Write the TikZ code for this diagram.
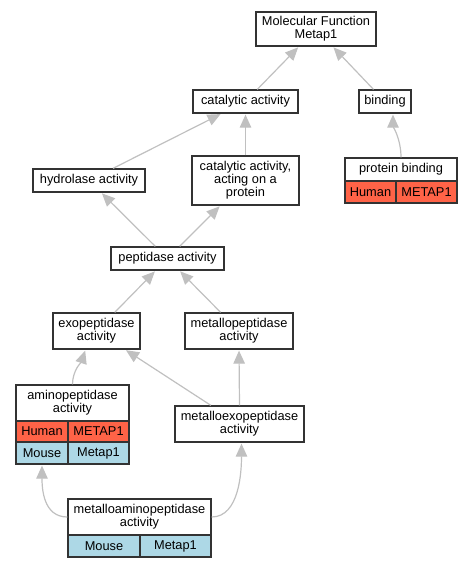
\documentclass[tikz,border=0pt]{standalone}
\usepackage{fontspec}
\setmainfont{Liberation Sans}
\usetikzlibrary{arrows.meta,calc}
\definecolor{bordc}{HTML}{333333}
\definecolor{edgec}{HTML}{C0C0C0}
\definecolor{humanc}{HTML}{FF6347}
\definecolor{mousec}{HTML}{ADD8E6}
\begin{document}
\begin{tikzpicture}[x=1pt,y=-1pt,
  box/.style={draw=bordc,line width=1.3pt,fill=white,align=center,inner sep=0pt,
    font=\fontsize{12.8}{13}\selectfont},
  human/.style={box,fill=humanc},
  mouse/.style={box,fill=mousec},
  edge/.style={draw=edgec,line width=1.2pt,-{Triangle[length=13pt,width=11.5pt]},shorten >=1pt}]
\useasboundingbox (0,0) rectangle (473,568);
% nodes
\node[box,minimum width=120pt,minimum height=34pt] (mf) at (316,29) {Molecular Function\\Metap1};
\node[box,minimum width=105pt,minimum height=23pt] (cat) at (245.5,101.5) {catalytic activity};
\node[box,minimum width=52pt,minimum height=23pt] (bind) at (385,101.5) {binding};
\node[box,minimum width=112pt,minimum height=23pt] (hyd) at (89,180.5) {hydrolase activity};
\node[box,minimum width=107pt,minimum height=49pt] (catp) at (245.5,180.5) {catalytic activity,\\acting on a\\protein};
\node[box,minimum width=112pt,minimum height=23pt] (pbind) at (401,169.5) {protein binding};
\node[human,minimum width=51pt,minimum height=22pt] (pbh) at (370.5,192) {Human};
\node[human,minimum width=61pt,minimum height=22pt] (pbg) at (426.5,192) {METAP1};
\node[box,minimum width=113pt,minimum height=23pt] (pep) at (167.5,258.5) {peptidase activity};
\node[box,minimum width=87pt,minimum height=36pt] (exo) at (96.5,331) {exopeptidase\\activity};
\node[box,minimum width=108pt,minimum height=36pt] (metp) at (239,331) {metallopeptidase\\activity};
\node[box,minimum width=113pt,minimum height=36pt] (amino) at (72.5,403) {aminopeptidase\\activity};
\node[human,minimum width=52pt,minimum height=21pt] (amh) at (42,431.5) {Human};
\node[human,minimum width=61pt,minimum height=21pt] (amhg) at (98.5,431.5) {METAP1};
\node[mouse,minimum width=52pt,minimum height=22pt] (amm) at (42,453) {Mouse};
\node[mouse,minimum width=61pt,minimum height=22pt] (ammg) at (98.5,453) {Metap1};
\node[box,minimum width=129pt,minimum height=36pt] (mexo) at (239.5,424) {metalloexopeptidase\\activity};
\node[box,minimum width=143pt,minimum height=36pt] (mam) at (139.5,517) {metalloaminopeptidase\\activity};
\node[mouse,minimum width=72pt,minimum height=22pt] (mamm) at (104,546) {Mouse};
\node[mouse,minimum width=71pt,minimum height=22pt] (mammg) at (175.5,546) {Metap1};
% edges
\draw[edge] (cat) -- (mf);
\draw[edge] (bind) -- (mf);
\draw[edge] (hyd) -- (cat);
\draw[edge] (catp) -- (cat);
\draw[edge] (pbind.north) .. controls +(0,-18) and +(0,12) .. ($(bind.south)+(8,0)$);
\draw[edge] (pep) -- (hyd);
\draw[edge] (pep) -- (catp);
\draw[edge] (exo) -- (pep);
\draw[edge] (metp) -- (pep);
\draw[edge] (amino.north) .. controls +(0,-14) and +(-4,12) .. ($(exo.south)+(-11,0)$);
\draw[edge] (mexo) -- (exo);
\draw[edge] (mexo.north) -- (metp.south);
\draw[edge] (mam.west) .. controls +(-24,0) and +(0,24) .. (amm.south);
\draw[edge] (mam.east) .. controls +(28,0) and +(0,28) .. ($(mexo.south)+(2,0)$);
\end{tikzpicture}
\end{document}
